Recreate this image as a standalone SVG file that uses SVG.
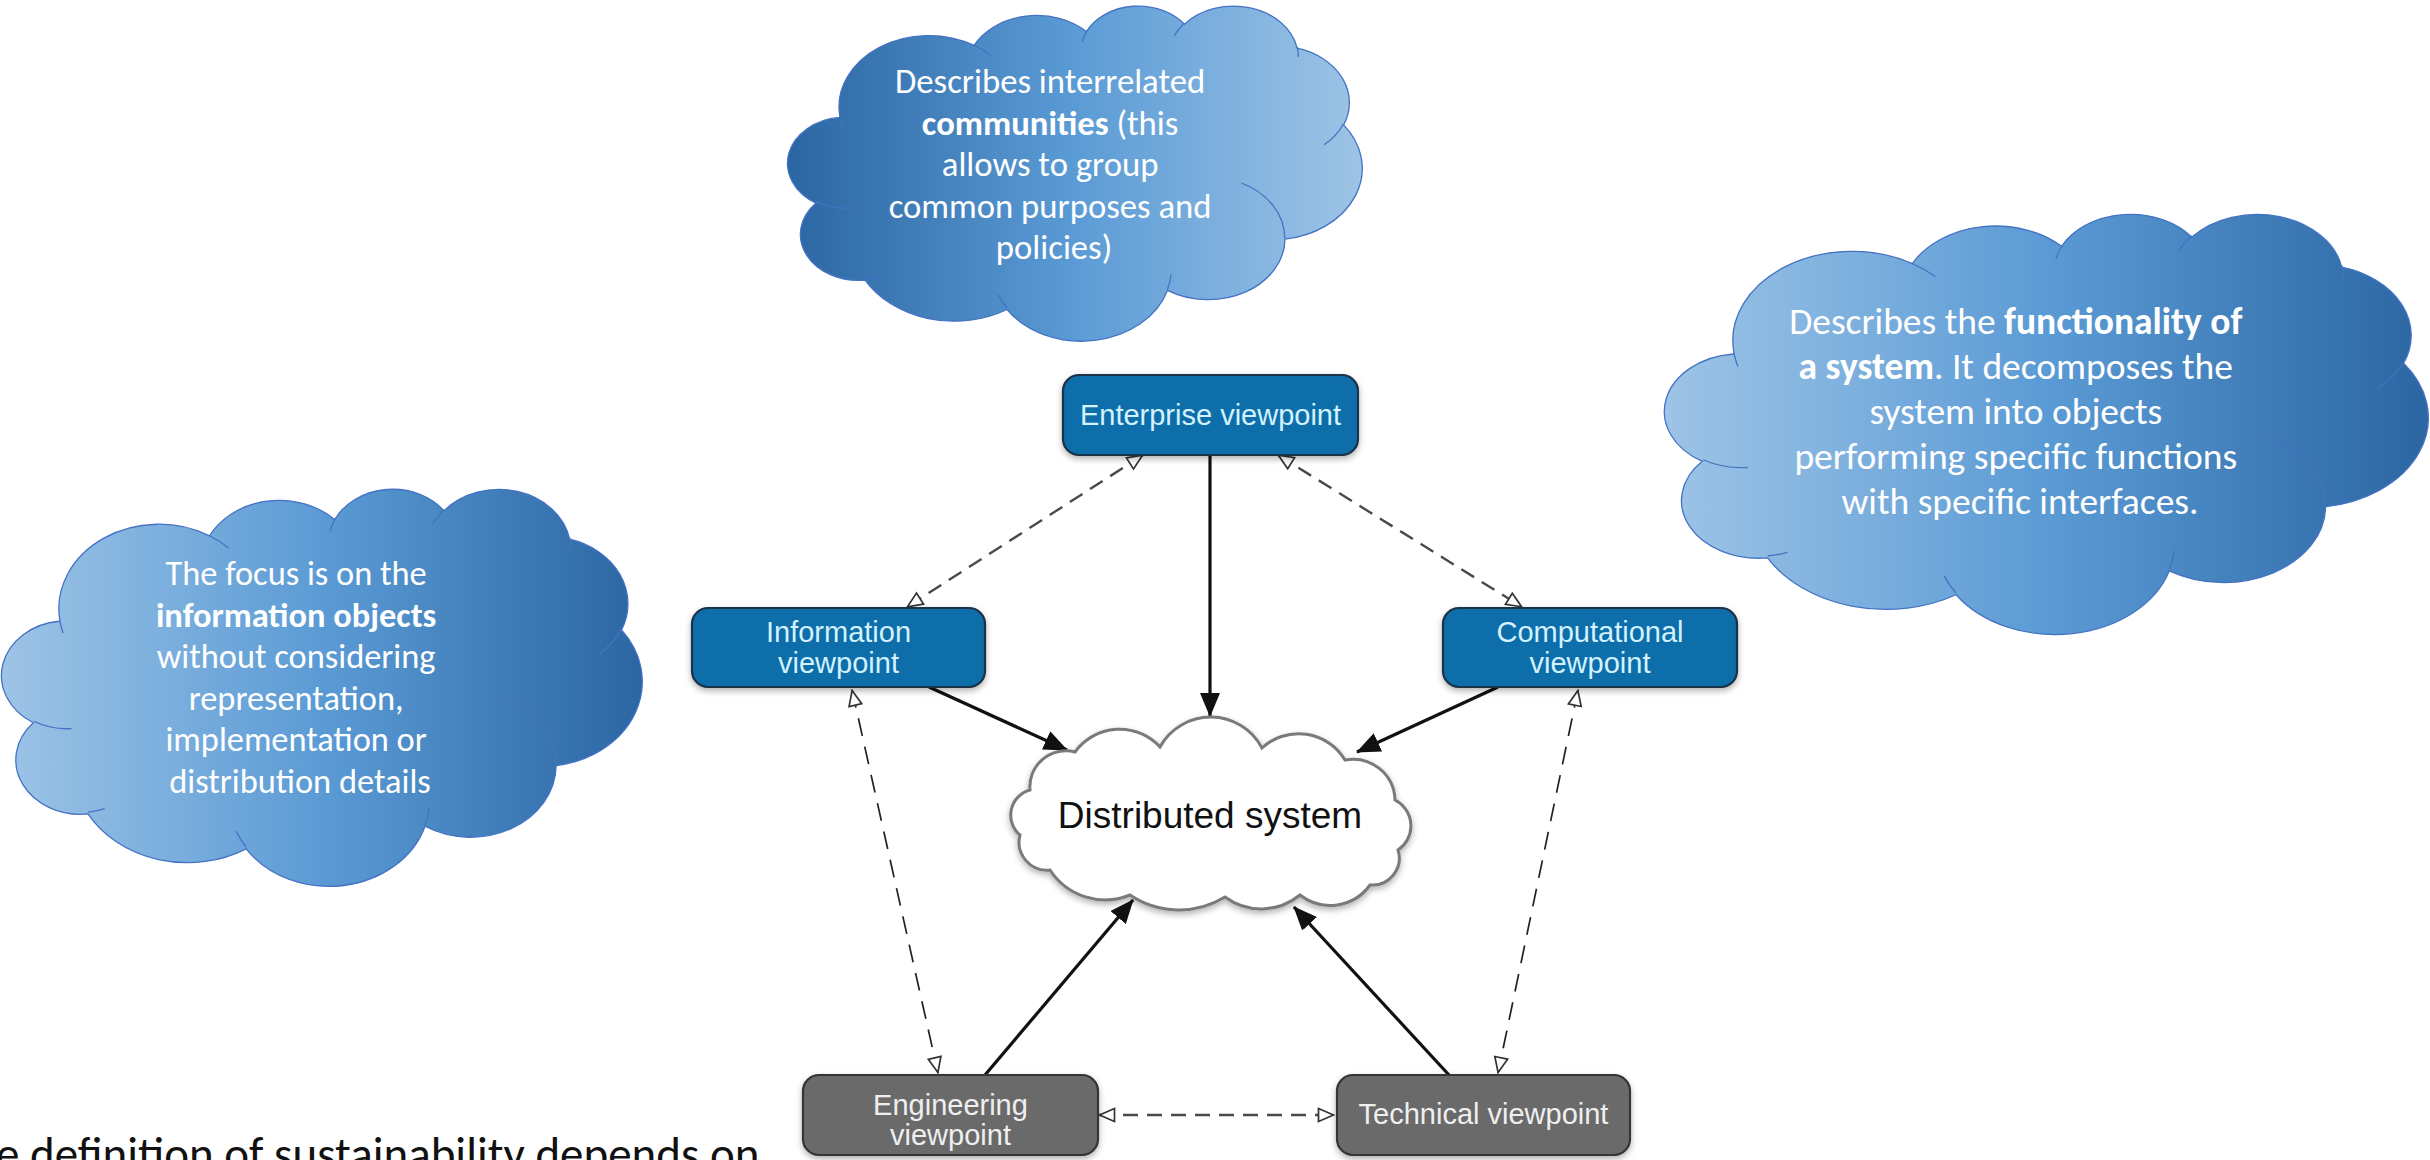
<svg xmlns="http://www.w3.org/2000/svg" width="2430" height="1160" viewBox="0 0 2430 1160">
<defs>
<style>
.cloud{stroke:#4472c4;stroke-width:1.3}
.inner{fill:none;stroke:#4472c4;stroke-width:1.3}
.ct{font-family:Carlito,Lato,"Liberation Sans",sans-serif;fill:#ffffff;text-anchor:middle}
.bx{stroke-width:2.2}
.blue{fill:#0b6ea9;stroke:#1d3047}
.gray{fill:#6b6b6b;stroke:#343434}
.bt{font-family:"Liberation Sans",Arial,sans-serif;font-size:29px;text-anchor:middle}
.btb{fill:#d2f2ff}
.btg{fill:#efefef}
.solid{fill:none;stroke:#111;stroke-width:3.2;marker-end:url(#ah)}
.dash{fill:none;stroke:#4a4a4a;stroke-width:2.4;stroke-dasharray:15 9;marker-start:url(#oh);marker-end:url(#oh)}
.dash2{fill:none;stroke:#222;stroke-width:1.7;stroke-dasharray:18 11;marker-start:url(#oh);marker-end:url(#oh)}
</style>
<linearGradient id="gDL" x1="0" y1="0" x2="1" y2="0">
<stop offset="0" stop-color="#2b66a2"/>
<stop offset="0.5" stop-color="#5b9bd5"/>
<stop offset="1" stop-color="#9ec4e6"/>
</linearGradient>
<linearGradient id="gLD" x1="0" y1="0" x2="1" y2="0">
<stop offset="0" stop-color="#9ec4e6"/>
<stop offset="0.5" stop-color="#5b9bd5"/>
<stop offset="1" stop-color="#2b66a2"/>
</linearGradient>
<path id="cloudShape" vector-effect="non-scaling-stroke" d="M9.028,33.264 A15.632,21.273 0 0 1 32.419,12.042 A12.345,16.822 0 0 1 51.982,7.938 A10.104,13.762 0 0 1 69.059,5.736 A11.243,15.266 0 0 1 88.698,12.904 A12.345,16.836 0 0 1 96.801,35.783 A15.683,21.343 0 0 1 86.582,69.909 A13.391,18.211 0 0 1 66.099,85.210 A15.630,21.331 0 0 1 38.146,90.886 A17.870,24.405 0 0 1 13.431,82.099 A10.093,13.699 0 0 1 4.887,59.131 A10.058,13.762 0 0 1 8.939,33.568 Z"/>
<path id="cloudInner" vector-effect="non-scaling-stroke" d="M10.863,60.595 A10.058,13.762 0 0 1 4.999,58.749 M16.037,80.785 A10.093,13.699 0 0 1 13.471,81.668 M38.144,90.486 A15.630,21.331 0 0 1 36.596,86.453 M66.729,80.442 A15.630,21.331 0 0 1 66.112,84.861 M79.002,53.134 A13.391,18.211 0 0 1 86.529,69.652 M96.755,35.542 A12.345,16.836 0 0 1 93.399,41.740 M88.713,12.560 A11.243,15.266 0 0 1 88.890,15.485 M67.310,9.148 A11.243,15.266 0 0 1 69.029,5.415 M51.252,10.926 A10.104,13.762 0 0 1 52.084,7.709 M32.407,12.019 A15.632,21.273 0 0 1 35.416,15.140 M9.553,36.549 A15.632,21.273 0 0 1 9.029,33.265"/>
<marker id="ah" markerUnits="userSpaceOnUse" viewBox="0 0 24 20" markerWidth="24" markerHeight="20" refX="23" refY="10" orient="auto">
<path d="M0,0 L24,10 L0,20 Z" fill="#111"/>
</marker>
<marker id="oh" markerUnits="userSpaceOnUse" viewBox="0 0 18 16" markerWidth="18" markerHeight="16" refX="17" refY="8" orient="auto-start-reverse">
<path d="M1.5,1.5 L16.5,8 L1.5,14.5 Z" fill="#ffffff" stroke="#333" stroke-width="1.7"/>
</marker>
<filter id="sh" x="-10%" y="-10%" width="120%" height="130%">
<feDropShadow dx="0" dy="3" stdDeviation="3" flood-color="#000" flood-opacity="0.3"/>
</filter>
</defs>
<rect width="2430" height="1160" fill="#ffffff"/>

<g id="cloud-enterprise">
<g transform="translate(788,5) scale(5.74,3.35)">
<use href="#cloudShape" class="cloud" fill="url(#gDL)"/>
<use href="#cloudInner" class="inner"/>
</g>
<text class="ct" font-size="34.7">
<tspan x="1054" y="93">Describes interrelated</tspan>
<tspan x="1054" y="134.5"><tspan font-weight="bold">communities</tspan> (this</tspan>
<tspan x="1054" y="176">allows to group</tspan>
<tspan x="1054" y="217.5">common purposes and</tspan>
<tspan x="1054" y="259">policies)</tspan>
</text>
</g>

<g id="cloud-computational">
<g transform="translate(1665,213) scale(7.63,4.2)">
<use href="#cloudShape" class="cloud" fill="url(#gLD)"/>
<use href="#cloudInner" class="inner"/>
</g>
<text class="ct" font-size="37.5">
<tspan x="2020" y="334">Describes the <tspan font-weight="bold">functionality of</tspan></tspan>
<tspan x="2020" y="379"><tspan font-weight="bold">a system</tspan>. It decomposes the</tspan>
<tspan x="2020" y="424">system into objects</tspan>
<tspan x="2020" y="469">performing specific functions</tspan>
<tspan x="2020" y="514">with specific interfaces.</tspan>
</text>
</g>

<g id="cloud-information">
<g transform="translate(2,488) scale(6.4,3.97)">
<use href="#cloudShape" class="cloud" fill="url(#gLD)"/>
<use href="#cloudInner" class="inner"/>
</g>
<text class="ct" font-size="34.4">
<tspan x="300" y="585">The focus is on the</tspan>
<tspan x="300" y="627" font-weight="bold">information objects</tspan>
<tspan x="300" y="668">without considering</tspan>
<tspan x="300" y="710">representation,</tspan>
<tspan x="300" y="751">implementation or</tspan>
<tspan x="300" y="793">distribution details</tspan>
</text>
</g>

<g id="connectors">
<line class="dash" x1="1143" y1="455" x2="907" y2="607"/>
<line class="dash" x1="1278" y1="455" x2="1522" y2="607"/>
<line class="dash2" x1="852" y1="690" x2="938" y2="1073"/>
<line class="dash2" x1="1578" y1="690" x2="1498" y2="1073"/>
<line class="dash" x1="1099" y1="1115" x2="1334" y2="1115"/>
<line class="solid" x1="1210" y1="455" x2="1210" y2="716"/>
<line class="solid" x1="929" y1="687" x2="1067" y2="750"/>
<line class="solid" x1="1498" y1="687" x2="1357" y2="752"/>
<line class="solid" x1="985" y1="1075" x2="1133" y2="900"/>
<line class="solid" x1="1449" y1="1075" x2="1294" y2="907"/>
</g>

<g id="distributed-system">
<path filter="url(#sh)" d="M1030,790 A36,36 0 0 1 1075,752 A55,55 0 0 1 1160,747 A58,58 0 0 1 1262,748 A54,54 0 0 1 1345,760 A42,42 0 0 1 1395,800 A29,29 0 0 1 1398,850 A27,27 0 0 1 1370,885 A49,49 0 0 1 1300,895 A61,61 0 0 1 1225,897 A88,88 0 0 1 1130,895 A66,66 0 0 1 1050,870 A28,28 0 0 1 1020,835 A26,26 0 0 1 1030,790 Z" fill="#ffffff" stroke="#7a7a7a" stroke-width="3"/>
<text x="1210" y="828" font-family="'Liberation Sans',Arial,sans-serif" font-size="37" fill="#111" text-anchor="middle">Distributed system</text>
</g>

<g id="enterprise-viewpoint">
<rect class="bx blue" filter="url(#sh)" x="1063" y="375" width="295" height="80" rx="16"/>
<text class="bt btb" x="1210.5" y="425">Enterprise viewpoint</text>
</g>
<g id="information-viewpoint">
<rect class="bx blue" filter="url(#sh)" x="692" y="608" width="293" height="79" rx="16"/>
<text class="bt btb"><tspan x="838.5" y="642">Information</tspan><tspan x="838.5" y="673">viewpoint</tspan></text>
</g>
<g id="computational-viewpoint">
<rect class="bx blue" filter="url(#sh)" x="1443" y="608" width="294" height="79" rx="16"/>
<text class="bt btb"><tspan x="1590" y="642">Computational</tspan><tspan x="1590" y="673">viewpoint</tspan></text>
</g>
<g id="engineering-viewpoint">
<rect class="bx gray" filter="url(#sh)" x="803" y="1075" width="295" height="80" rx="16"/>
<text class="bt btg"><tspan x="950.5" y="1115">Engineering</tspan><tspan x="950.5" y="1145">viewpoint</tspan></text>
</g>
<g id="technical-viewpoint">
<rect class="bx gray" filter="url(#sh)" x="1337" y="1075" width="293" height="80" rx="16"/>
<text class="bt btg" x="1483.5" y="1124">Technical viewpoint</text>
</g>

<text id="caption" x="-4" y="1170" font-family="Carlito,Lato,'Liberation Sans',sans-serif" font-size="47" fill="#111">e definition of sustainability depends on</text>
</svg>
